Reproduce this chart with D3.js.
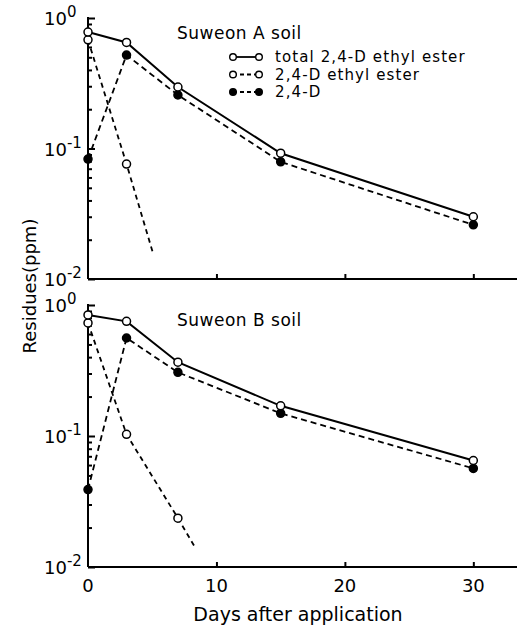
<!DOCTYPE html>
<html>
<head>
<meta charset="utf-8">
<script src="https://cdn.jsdelivr.net/npm/d3@7"></script>
<style>
  body { margin: 0; background: #fff; }
  svg { display: block; }
  text { font-family: "DejaVu Sans", sans-serif; fill: #000; }
  .axis path, .axis line { stroke: #000; stroke-width: 2; }
</style>
</head>
<body>
<div id="chart"></div>
<script>
// sampling days
var days = [0, 3, 7, 15, 30];

// Suweon A soil
var totalA = [0.78, 0.65, 0.296, 0.092, 0.030];
var esterA = [0.68, 0.076];
var esterATail = [5.1, 0.0153];
var acidA = [0.083, 0.52, 0.257, 0.079, 0.026];

// Suweon B soil
var totalB = [0.84, 0.75, 0.366, 0.17, 0.065];
var esterB = [0.73, 0.103, 0.0236];
var esterBTail = [8.3, 0.0143];
var acidB = [0.039, 0.56, 0.306, 0.149, 0.0566];

var xTicks = [0, 10, 20, 30];
var majorY = [1, 0.1, 0.01];
var decadeExp = ["0", "-1", "-2"];
var legendLabels = ["total 2,4-D ethyl ester", "2,4-D ethyl ester", "2,4-D"];

var width = 517, height = 628;

var svg = d3.select("#chart").append("svg")
  .attr("width", width)
  .attr("height", height);

var x = d3.scaleLinear().domain([0, 33.4]).range([88, 517]);

function pts(vals, extra) {
  var a = vals.map(function(v, i){ return [days[i], v]; });
  if (extra) a.push(extra);
  return a;
}

var panels = [
  { name: "Suweon A soil", top: 18, bottom: 279, total: totalA, ester: esterA, esterTail: esterATail, acid: acidA, legend: true },
  { name: "Suweon B soil", top: 305, bottom: 567, total: totalB, ester: esterB, esterTail: esterBTail, acid: acidB, legend: false }
];

panels.forEach(function(p) {
  var y = d3.scaleLog().domain([0.01, 1]).range([p.bottom, p.top]);
  var g = svg.append("g");

  // minor ticks on the log axis
  var minor = [];
  [0.01, 0.1].forEach(function(d){ for (var k = 2; k <= 9; k++) minor.push(d * k); });

  g.append("g").attr("class", "axis")
    .attr("transform", "translate(" + x(0) + ",0)")
    .call(d3.axisLeft(y).tickValues(minor).tickSizeInner(-4).tickSizeOuter(0).tickFormat(""))
    .select(".domain").remove();

  g.append("g").attr("class", "axis")
    .attr("transform", "translate(" + x(0) + ",0)")
    .call(d3.axisLeft(y).tickValues(majorY).tickSizeInner(-7).tickSizeOuter(0).tickFormat(""))
    .select(".domain").attr("d", "M0," + (p.top - 1) + "V" + p.bottom);

  // x axis
  g.append("g").attr("class", "axis")
    .attr("transform", "translate(0," + p.bottom + ")")
    .call(d3.axisBottom(x).tickValues(xTicks.slice(1)).tickSizeInner(-5).tickSizeOuter(0).tickFormat(""))
    .select(".domain").attr("d", "M" + x(0) + ",0H" + width);

  // y labels 10^n
  majorY.forEach(function(v, i) {
    var t = g.append("text")
      .attr("x", 44)
      .attr("y", y(v) + 7)
      .style("font-size", "18px");
    t.append("tspan").text("10");
    t.append("tspan")
      .attr("dy", -8)
      .style("font-size", "15px")
      .text(decadeExp[i]);
  });

  var line = d3.line().x(function(d){ return x(d[0]); }).y(function(d){ return y(d[1]); });

  g.append("path").datum(pts(p.ester, p.esterTail))
    .attr("d", line).attr("fill", "none").attr("stroke", "#000")
    .attr("stroke-width", 1.8).attr("stroke-dasharray", "5,4");
  g.append("path").datum(pts(p.acid))
    .attr("d", line).attr("fill", "none").attr("stroke", "#000")
    .attr("stroke-width", 1.8).attr("stroke-dasharray", "6,4");
  g.append("path").datum(pts(p.total))
    .attr("d", line).attr("fill", "none").attr("stroke", "#000")
    .attr("stroke-width", 2);

  function dots(data, filled) {
    g.selectAll(null).data(data).enter().append("circle")
      .attr("cx", function(d){ return x(d[0]); })
      .attr("cy", function(d){ return y(d[1]); })
      .attr("r", 4)
      .attr("fill", filled ? "#000" : "#fff")
      .attr("stroke", "#000").attr("stroke-width", 1.5);
  }
  dots(pts(p.acid), true);
  dots(pts(p.ester), false);
  dots(pts(p.total), false);

  g.append("text")
    .attr("x", 177).attr("y", p.top + 21)
    .style("font-size", "17px")
    .style("letter-spacing", "0.5px")
    .text(p.name);

  if (p.legend) {
    var dash = [null, "4,3", "4,3"];
    var fill = ["#fff", "#fff", "#000"];
    legendLabels.forEach(function(lab, i) {
      var ly = p.top + 39 + i * 17.5;
      var lg = g.append("g");
      lg.append("line")
        .attr("x1", 233).attr("x2", 259).attr("y1", ly).attr("y2", ly)
        .attr("stroke", "#000").attr("stroke-width", 1.8)
        .attr("stroke-dasharray", dash[i]);
      [233, 259].forEach(function(cx){
        lg.append("circle").attr("cx", cx).attr("cy", ly).attr("r", 3.3)
          .attr("fill", fill[i]).attr("stroke", "#000").attr("stroke-width", 1.4);
      });
      lg.append("text")
        .attr("x", 275).attr("y", ly + 5)
        .style("font-size", "15px")
        .style("letter-spacing", "1.1px")
        .text(lab);
    });
  }

  // x tick labels only under lower panel
  if (!p.legend) {
    g.selectAll(null).data(xTicks).enter().append("text")
      .attr("x", function(d){ return x(d); })
      .attr("y", p.bottom + 25)
      .attr("text-anchor", "middle")
      .style("font-size", "18px")
      .text(function(d){ return d; });
  }
});

svg.append("text")
  .attr("transform", "translate(36,286) rotate(-90)")
  .attr("text-anchor", "middle")
  .style("font-size", "18px")
  .text("Residues(ppm)");

svg.append("text")
  .attr("x", 298).attr("y", 621)
  .attr("text-anchor", "middle")
  .style("font-size", "19px")
  .text("Days after application");
</script>
</body>
</html>
